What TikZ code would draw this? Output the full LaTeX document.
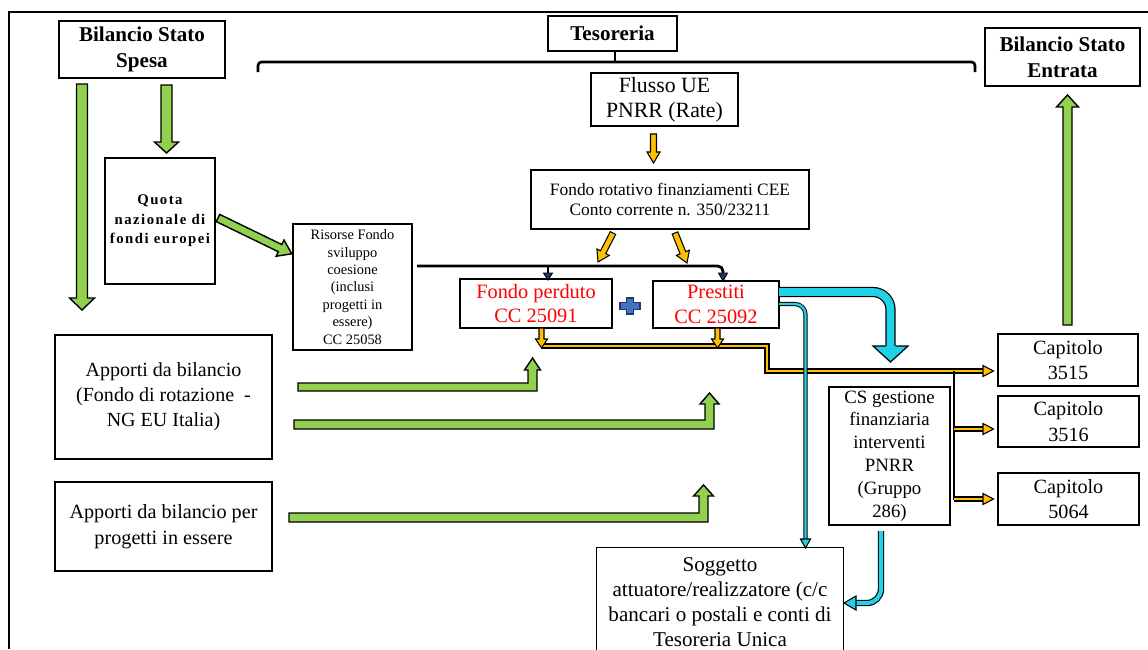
\documentclass[tikz,border=0pt]{standalone}
\usepackage{fontspec}
\setmainfont{Liberation Serif}
\definecolor{gr}{RGB}{146,208,80}
\definecolor{orng}{RGB}{255,192,0}
\definecolor{cyn}{RGB}{32,210,232}
\definecolor{plusblue}{RGB}{68,114,196}
\definecolor{navy}{RGB}{31,56,100}
\newcommand\fsz[2]{\fontsize{#1}{#2}\selectfont}
% block arrow: style, x, y, angle, length, shaft half width, head half width, head length
\newcommand\blockarr[8]{%
  \begin{scope}[shift={(#2,#3)}, rotate=#4]
    \draw[#1] (0,-#6) -- ({#5-#8},-#6) -- ({#5-#8},-#7) -- (#5,0) -- ({#5-#8},#7) -- ({#5-#8},#6) -- (0,#6) -- cycle;
  \end{scope}}
% box from corners: name, x1, y1, x2, y2, style, text
\newcommand\bx[7]{%
  \node[box, minimum width={(#4-#2)*0.02cm}, minimum height={(#5-#3)*0.02cm}, #6] (#1) at ({(#2+#4)/2},{(#3+#5)/2}) {#7};}
\begin{document}
\begin{tikzpicture}[x=0.02cm,y=-0.02cm,
  box/.style={draw, line width=0.7pt, inner sep=0pt, align=center},
  garrow/.style={fill=gr, draw=black, line width=0.8pt, line join=miter},
  oarrow/.style={fill=orng, draw=black, line width=0.6pt, line join=miter},
  ohead/.style={fill=orng, draw=black, line width=0.6pt},
  olineb/.style={draw=black, line width=2.9pt},
  olinef/.style={draw=orng, line width=1.6pt},
  redtxt/.style={text=red, font=\fsz{11.6}{14.2}},
]
\useasboundingbox (0,0) rectangle (1148,649);
% outer frame
\draw[line width=0.6pt] (9,649) -- (9,12) -- (1148,12);

% boxes
\bx{spesa}{59}{21}{225}{78}{font=\bfseries\fsz{12}{14.4}}{Bilancio Stato\\Spesa}
\bx{tes}{548}{16}{677}{51}{font=\bfseries\fsz{12}{14.4}}{Tesoreria}
\bx{entr}{985}{28}{1140}{86}{font=\bfseries\fsz{12}{14.6}}{Bilancio Stato\\Entrata}
\bx{flusso}{591}{73}{738}{126}{font=\fsz{12.4}{14.2}}{Flusso UE\\PNRR (Rate)}
\bx{rot}{531}{170}{809}{229}{font=\fsz{9.9}{10.9}}{Fondo rotativo finanziamenti CEE\\Conto corrente n. 350/23211}
\bx{quota}{105}{158}{215}{284}{font=\bfseries\fsz{8.4}{11}\addfontfeatures{LetterSpace=10}}{Quota\\nazionale di\\fondi europei}
\bx{ris}{293}{224}{412}{350}{font=\fsz{8.2}{9.9}}{Risorse Fondo\\sviluppo\\coesione\\(inclusi\\progetti in\\essere)\\CC 25058}
\bx{fp}{460}{279}{612}{328}{redtxt}{Fondo perduto\\CC 25091}
\bx{pr}{653}{281}{779}{328}{redtxt}{Prestiti\\CC 25092}
\bx{app1}{55}{335}{272}{459}{font=\fsz{11.4}{14.2}}{Apporti da bilancio\\(Fondo di rotazione\ \ -\\NG EU Italia)}
\bx{app2}{55}{482}{272}{571}{font=\fsz{11.5}{15}}{Apporti da bilancio per\\progetti in essere}
\bx{cap1}{998}{334}{1138}{386}{font=\fsz{11.5}{14.7}}{Capitolo\\3515}
\bx{cap2}{998}{396}{1139}{447}{font=\fsz{11.5}{14.7}}{Capitolo\\3516}
\bx{cap3}{998}{473}{1139}{525}{font=\fsz{11.5}{14.7}}{Capitolo\\5064}
\bx{cs}{829}{387}{950}{525}{font=\fsz{10.7}{13}}{CS gestione\\finanziaria\\interventi\\PNRR\\(Gruppo\\286)}
\bx{sog}{597}{548}{843}{657}{draw=none, font=\fsz{12}{14.2}}{Soggetto\\attuatore/realizzatore (c/c\\bancari o postali e conti di\\Tesoreria Unica}
\draw[line width=0.7pt] (sog.south west) -- (sog.north west) -- (sog.north east) -- (sog.south east);

% Tesoreria bracket
\coordinate (brL) at (258,72);
\coordinate (brR) at (975,72);
\coordinate (brM) at (615,62);
\draw[line width=1.5pt, rounded corners=2pt] (brL) -- (258,62) -- (975,62) -- (brR);
\draw[line width=1.5pt] (brM) -- (brM |- tes.south);

% green arrows from Bilancio Stato Spesa
\blockarr{garrow}{82}{84}{-90}{226}{5.5}{12.5}{12}
\blockarr{garrow}{166.5}{85}{-90}{68}{5.5}{12}{11}
% quota -> risorse
\blockarr{garrow}{218}{218}{-25.9}{82}{4}{9}{13}
% up to Bilancio Stato Entrata
\blockarr{garrow}{1067.5}{325}{90}{230}{4.5}{11}{12}

% orange arrows
\blockarr{oarrow}{653.5}{134}{-90}{29}{3}{6.5}{11}
\blockarr{oarrow}{613}{233}{-117.3}{32.6}{3}{7}{11}
\blockarr{oarrow}{675}{233}{-68.2}{32.3}{3}{7}{11}

% black line from risorse to fondo perduto / prestiti
\draw[line width=1.6pt, rounded corners=3pt] (417,266) -- (723,266) -- (723,274);
\draw[line width=1.6pt] (548,266) -- (548,274);
\draw[fill=navy, line width=0.5pt] (543.5,273) -- (552.5,273) -- (548,280) -- cycle;
\draw[fill=navy, line width=0.5pt] (718.5,273) -- (727.5,273) -- (723,281) -- cycle;

% plus sign
\draw[fill=plusblue, draw=navy, line width=0.8pt] (626.5,298) -- (633.5,298) -- (633.5,302.5) -- (640,302.5) -- (640,309.5) -- (633.5,309.5) -- (633.5,314) -- (626.5,314) -- (626.5,309.5) -- (620,309.5) -- (620,302.5) -- (626.5,302.5) -- cycle;

% orange collector line to capitoli
\draw[olineb, line join=miter] (541.5,346) -- (767,346) -- (767,371) -- (984,371);
\draw[olinef, line join=miter] (541.5,346) -- (767,346) -- (767,371) -- (984,371);
\draw[line width=1.6pt] (954,371) -- (954,500);
\draw[olineb] (954,429) -- (984,429);
\draw[olinef] (954,429) -- (984,429);
\draw[olineb] (954,499) -- (984,499);
\draw[olinef] (954,499) -- (984,499);
\draw[ohead] (983,365.5) -- (993.5,371) -- (983,376.5) -- cycle;
\draw[ohead] (983,423.5) -- (993.5,429) -- (983,434.5) -- cycle;
\draw[ohead] (983,493.5) -- (993.5,499) -- (983,504.5) -- cycle;
\blockarr{oarrow}{541.5}{328}{-90}{20}{2.5}{6}{9}
\blockarr{oarrow}{717.5}{328}{-90}{20}{2.5}{6}{9}

% green elbow arrows
\draw[garrow] (298,383) -- (528,383) -- (528,370) -- (524.5,370) -- (532.5,358) -- (540.5,370) -- (537,370) -- (537,391) -- (298,391) -- cycle;
\draw[garrow] (294,420) -- (705,420) -- (705,404) -- (700,404) -- (709.5,393) -- (719,404) -- (714,404) -- (714,429) -- (294,429) -- cycle;
\draw[garrow] (289,513) -- (699,513) -- (699,496) -- (693.5,496) -- (703.5,485) -- (713.5,496) -- (708,496) -- (708,522) -- (289,522) -- cycle;

% cyan big arrow from prestiti
\draw[black, line width=5.8pt, rounded corners=10pt] (779,292) -- (890.5,292) -- (890.5,347);
\draw[cyn, line width=4.4pt, rounded corners=10pt] (779,292) -- (890.5,292) -- (890.5,348);
\fill[cyn] (873,346) -- (908,346) -- (890.5,362) -- cycle;
\draw[line width=0.7pt] (885.5,346) -- (873,346) -- (890.5,362) -- (908,346) -- (895.5,346);

% cyan thin arrow from prestiti to soggetto
\draw[black, line width=2.4pt, rounded corners=6pt] (779,304) -- (805.5,304) -- (805.5,540);
\draw[cyn, line width=1.3pt, rounded corners=6pt] (779,304) -- (805.5,304) -- (805.5,541);
\draw[fill=cyn, line width=0.6pt] (800.5,539) -- (810.5,539) -- (805.5,548) -- cycle;

% cyan arrow from CS to soggetto
\coordinate (csout) at (881,531);
\draw[black, line width=3.6pt, rounded corners=8pt] (csout) -- (881,603) -- (855,603);
\draw[cyn, line width=2.3pt, rounded corners=8pt] (csout) -- (881,603) -- (854,603);
\draw[fill=cyn, line width=0.6pt] (856,596) -- (856,610) -- (844,603) -- cycle;
\end{tikzpicture}
\end{document}
